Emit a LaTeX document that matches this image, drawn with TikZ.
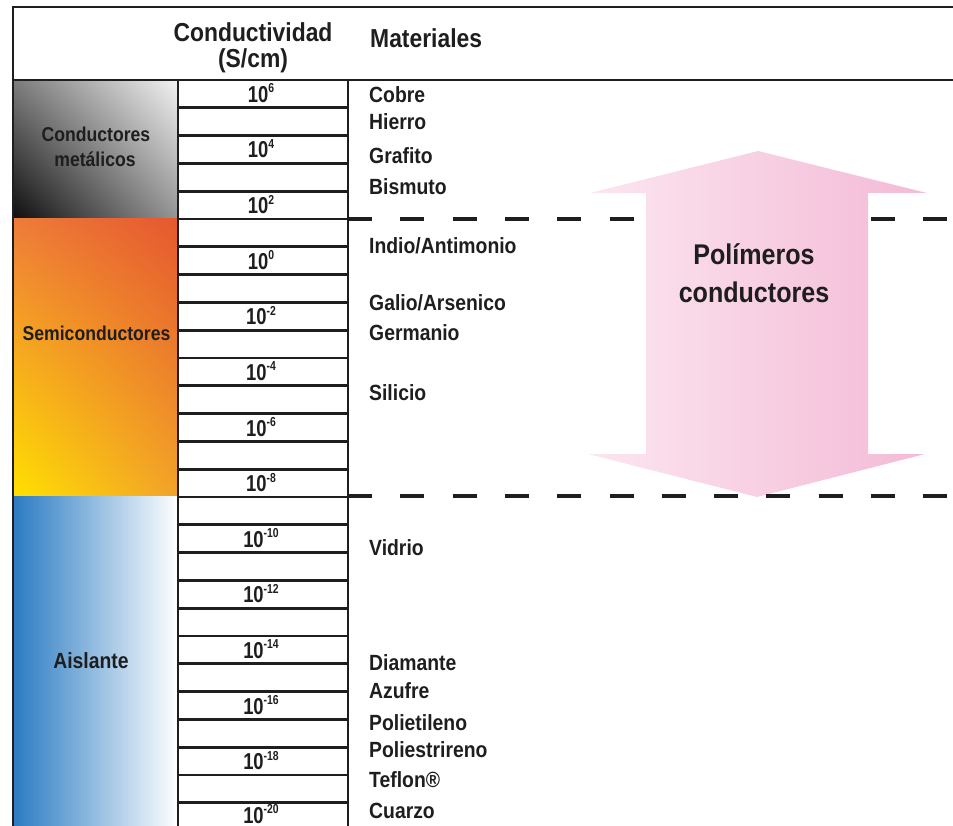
\documentclass[tikz,border=0pt]{standalone}
\usepackage{fontspec}
\usetikzlibrary{shadings}
\setmainfont{Liberation Sans}
\newfontfamily\fM[FakeStretch=0.88]{Liberation Sans}
\newfontfamily\fN[FakeStretch=0.80]{Liberation Sans}
\definecolor{ink}{HTML}{1E1E1E}
\definecolor{metUL}{HTML}{7C7C7C}
\definecolor{metUR}{HTML}{F2F2F2}
\definecolor{metLL}{HTML}{0E0E0E}
\definecolor{metLR}{HTML}{959595}
\definecolor{semUL}{HTML}{EE7C3A}
\definecolor{semUR}{HTML}{E5582E}
\definecolor{semLL}{HTML}{FFE000}
\definecolor{semLR}{HTML}{F2A22A}
\definecolor{insB}{HTML}{2A7BC2}
\definecolor{insM}{HTML}{A3C8DE}
\definecolor{pinkL}{HTML}{FCE6F0}
\definecolor{pinkR}{HTML}{F3BAD6}
\newcommand\pw[1]{\raisebox{9.5pt}{\fontsize{13}{13}\selectfont #1}}
\begin{document}
\begin{tikzpicture}[x=1pt,y=-1pt,
  frame/.style={draw=ink,line width=2.6pt},
  gridline/.style={draw=ink,line width=2.8pt},
  sepline/.style={draw=ink,line width=3.5pt,dash pattern=on 24pt off 28.3pt},
  mat/.style={anchor=base west,inner sep=0pt,text=ink,font=\fM\bfseries\fontsize{22}{24}\selectfont},
  num/.style={anchor=base,inner sep=0pt,text=ink,font=\fN\bfseries\fontsize{23}{24}\selectfont},
  hdr/.style={inner sep=0pt,text=ink,font=\fM\bfseries\fontsize{26}{28}\selectfont},
  lab/.style={anchor=base,inner sep=0pt,text=ink,font=\fM\bfseries\fontsize{20}{22}\selectfont},
  poly/.style={anchor=base,inner sep=0pt,text=ink,font=\fM\bfseries\fontsize{28.5}{30}\selectfont}
]
\useasboundingbox (0,0) rectangle (953,826);
% colour bands
\shade[upper left=metUL,upper right=metUR,lower left=metLL,lower right=metLR] (13,80) rectangle (178,219);
\shade[upper left=semUL,upper right=semUR,lower left=semLL,lower right=semLR] (13,219) rectangle (178,496);
\shade[left color=insB,middle color=insM,right color=white] (13,496) rectangle (178,826);
% scale grid
\foreach \k in {1,...,26} \draw[gridline] (178,{80+27.8*\k}) -- (348,{80+27.8*\k});
\draw[gridline] (178,80) -- (178,826);
\draw[gridline] (348,80) -- (348,826);
% frame
\draw[frame] (953,7) -- (13,7) -- (13,826);
\draw[frame] (13,80) -- (953,80);
% top separator (behind arrow)
\draw[sepline] (348,219) -- (953,219);
% arrow
\shade[left color=pinkL,right color=pinkR]
  (758,151) -- (927,193) -- (868,193) -- (868,454) -- (925,454) -- (757,497)
  -- (588,454) -- (646,454) -- (646,193) -- (590,193) -- cycle;
\draw[sepline] (348,496) -- (953,496);
% header
\node[hdr,anchor=base] (cond) at (253,42) {Conductividad};
\node[hdr,anchor=base] (scm) at (253,68) {(S/cm)};
\node[hdr,anchor=base west] (mats) at (370,48) {Materiales};
% left labels
\node[lab] (cm1) at (96,142) {Conductores};
\node[lab] (cm2) at (95,167) {metálicos};
\node[lab] (semi) at (96.5,340) {Semiconductores};
\node[lab,font=\fM\bfseries\fontsize{22}{24}\selectfont] (ais) at (91,668) {Aislante};
% scale numbers
\foreach \j/\e in {0/6,1/4,2/2,3/0,4/-2,5/-4,6/-6,7/-8,8/-10,9/-12,10/-14,11/-16,12/-18}
  \node[num] (n\j) at (261,{80+55.6*\j+22.4}) {10\pw{\e}};
\node[num] (n13) at (261,823) {10\pw{-20}};
% materials
\node[mat] (m1) at (369,103) {Cobre};
\node[mat] (m2) at (369,130) {Hierro};
\node[mat] (m3) at (369,164) {Grafito};
\node[mat] (m4) at (369,195) {Bismuto};
\node[mat] (m5) at (369,254) {Indio/Antimonio};
\node[mat] (m6) at (369,311) {Galio/Arsenico};
\node[mat] (m7) at (369,341) {Germanio};
\node[mat] (m8) at (369,400) {Silicio};
\node[mat] (m9) at (369,555) {Vidrio};
\node[mat] (m10) at (369,670) {Diamante};
\node[mat] (m11) at (369,698) {Azufre};
\node[mat] (m12) at (369,730) {Polietileno};
\node[mat] (m13) at (369,757) {Poliestrireno};
\node[mat] (m14) at (369,787) {Teflon®};
\node[mat] (m15) at (369,818) {Cuarzo};
% polymer label
\node[poly] (pol1) at (754,265) {Polímeros};
\node[poly] (pol2) at (754,302) {conductores};
\end{tikzpicture}
\end{document}
